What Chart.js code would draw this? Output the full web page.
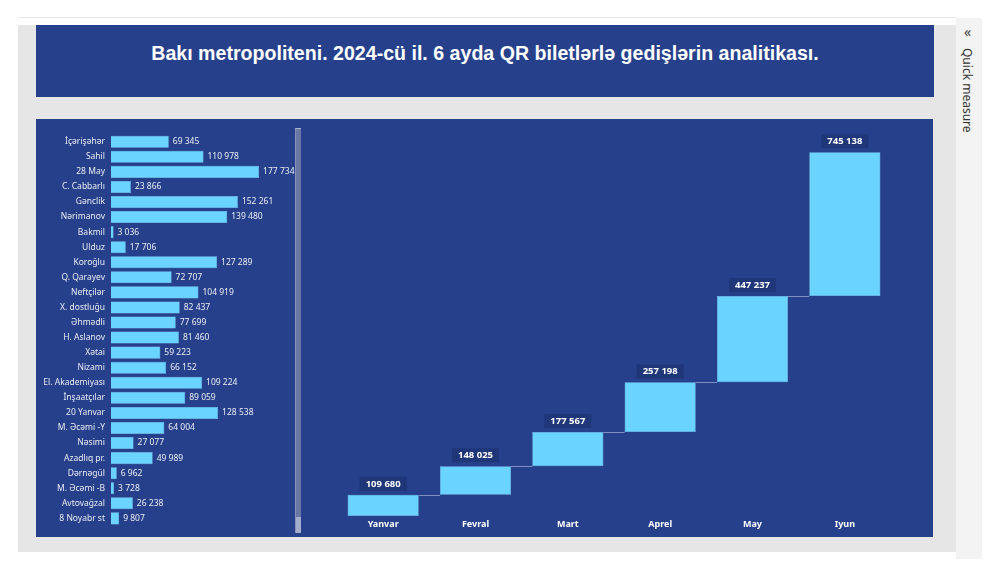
<!DOCTYPE html>
<html>
<head>
<meta charset="utf-8">
<script src="https://cdn.jsdelivr.net/npm/chart.js@4.4.1/dist/chart.umd.min.js"></script>
<style>
  body { margin: 0; background: #ffffff; width: 1000px; height: 578px; position: relative; overflow: hidden; font-family: "Noto Sans", sans-serif; }
  #canvasBg { position: absolute; left: 18px; top: 25px; width: 938px; height: 527px; background: #e6e6e6; }
  #topStrip { position: absolute; left: 18px; top: 17px; width: 938px; height: 1px; background: #e8e8e8; }
  #title { position: absolute; left: 36px; top: 25px; width: 898px; height: 72px; background: #26408b; color: #fff;
           font: bold 19.6px "Liberation Sans", Arial, sans-serif; text-align: center; line-height: 56px; }
  #leftPanel { position: absolute; left: 36px; top: 119px; width: 266px; height: 418px; background: #26408b; }
  #rightPanel { position: absolute; left: 302px; top: 119px; width: 631px; height: 418px; background: #26408b; }
  #scroll { position: absolute; left: 295px; top: 128px; width: 5px; height: 404px; background: #6b77a3;
            border-top: 1px solid #aab3cf; border-left: 1px solid #8892b6; z-index: 2; }
  #thumb { position: absolute; left: 0; bottom: 0; width: 5px; height: 16px; background: #a3aecb; }
  #qm { position: absolute; left: 956px; top: 18px; width: 26px; height: 541px; background: #f3f3f3; }
  #qmArrow { position: absolute; left: 964px; top: 22px; font: 14px "Noto Sans", sans-serif; color: #444; }
  #qmText { position: absolute; left: 976px; top: 48px; transform-origin: 0 0; transform: rotate(90deg);
            font: 12px "Noto Sans", sans-serif; color: #333; white-space: nowrap; }
  canvas { position: absolute; }
</style>
</head>
<body>
<div id="topStrip"></div>
<div id="canvasBg"></div>
<div id="title">Bakı metropoliteni. 2024-cü il. 6 ayda QR biletlərlə gedişlərin analitikası.</div>
<div id="leftPanel"></div>
<div id="rightPanel"></div>
<div id="qm"></div>
<div id="qmArrow">«</div>
<div id="qmText">Quick measure</div>
<canvas id="chart1" width="266" height="418" style="left:36px;top:119px;width:266px;height:418px"></canvas>
<canvas id="chart2" width="631" height="418" style="left:302px;top:119px;width:631px;height:418px"></canvas>
<div id="scroll"><div id="thumb"></div></div>
<script>
// stations and QR rides per station (Jan-Jun 2024)
const stations = ['İçərişəhər', 'Sahil', '28 May', 'C. Cabbarlı', 'Gənclik', 'Nərimanov', 'Bakmil', 'Ulduz',
    'Koroğlu', 'Q. Qarayev', 'Neftçilər', 'X. dostluğu', 'Əhmədli', 'H. Aslanov', 'Xətai', 'Nizami',
    'El. Akademiyası', 'İnşaatçılar', '20 Yanvar', 'M. Əcəmi -Y', 'Nəsimi', 'Azadlıq pr.', 'Dərnəgül',
    'M. Əcəmi -B', 'Avtovağzal', '8 Noyabr st'];
const stationRides = [69345, 110978, 177734, 23866, 152261, 139480, 3036, 17706, 127289, 72707, 104919,
    82437, 77699, 81460, 59223, 66152, 109224, 89059, 128538, 64004, 27077, 49989, 6962, 3728, 26238, 9807];

// months and rides per month (waterfall)
const months = ['Yanvar', 'Fevral', 'Mart', 'Aprel', 'May', 'Iyun'];
const monthRides = [109680, 148025, 177567, 257198, 447237, 745138];

const barColor = '#6bd3ff';
const textColor = '#e9ecf4';
const labelFont = '"Noto Sans", sans-serif';

function fmt(v) {
    return String(v).replace(/\B(?=(\d{3})+(?!\d))/g, ' ');
}

// value labels at the end of horizontal bars
const barValues = {
    id: 'barValues',
    afterDatasetsDraw(chart) {
        const ctx = chart.ctx;
        const meta = chart.getDatasetMeta(0);
        ctx.save();
        ctx.font = '8.5px ' + labelFont;
        ctx.fillStyle = textColor;
        ctx.textAlign = 'left';
        ctx.textBaseline = 'middle';
        meta.data.forEach((bar, i) => {
            ctx.fillText(fmt(stationRides[i]), bar.x + 4, bar.y);
        });
        ctx.restore();
    }
};

new Chart(document.getElementById('chart1'), {
    type: 'bar',
    data: {
        labels: stations,
        datasets: [{
            data: stationRides,
            backgroundColor: barColor,
            borderColor: '#8fdfff',
            borderWidth: 0.5,
            barPercentage: 0.8,
            categoryPercentage: 1
        }]
    },
    options: {
        indexAxis: 'y',
        responsive: false,
        animation: false,
        devicePixelRatio: 1,
        layout: { padding: { top: 15.2, bottom: 7.6, left: 0, right: 6 } },
        plugins: { legend: { display: false }, tooltip: { enabled: false } },
        scales: {
            x: { display: false, min: 0, max: 222000 },
            y: {
                grid: { display: false, drawTicks: false },
                border: { display: false },
                ticks: { color: textColor, font: { size: 8.5, family: labelFont }, padding: 6, autoSkip: false },
                afterFit(scale) { scale.width = 75; }
            }
        }
    },
    plugins: [barValues]
});

// cumulative waterfall segments
const steps = [];
let running = 0;
monthRides.forEach(v => {
    steps.push([running, running + v]);
    running += v;
});

// connectors and boxed labels for the waterfall
const waterfallExtras = {
    id: 'waterfallExtras',
    afterDatasetsDraw(chart) {
        const ctx = chart.ctx;
        const meta = chart.getDatasetMeta(0);
        const yScale = chart.scales.y;
        ctx.save();
        ctx.strokeStyle = '#8090c4';
        ctx.lineWidth = 1;
        for (let i = 0; i < meta.data.length - 1; i++) {
            const a = meta.data[i], b = meta.data[i + 1];
            const y = Math.round(yScale.getPixelForValue(steps[i][1])) + 0.5;
            ctx.beginPath();
            ctx.moveTo(a.x + a.width / 2, y);
            ctx.lineTo(b.x - b.width / 2, y);
            ctx.stroke();
        }
        ctx.font = 'bold 9.5px ' + labelFont;
        ctx.textAlign = 'center';
        ctx.textBaseline = 'middle';
        meta.data.forEach((bar, i) => {
            const txt = fmt(monthRides[i]);
            const w = ctx.measureText(txt).width + 12;
            const top = yScale.getPixelForValue(steps[i][1]);
            const cy = top - 11;
            ctx.fillStyle = '#1f3779';
            ctx.fillRect(bar.x - w / 2, cy - 7, w, 14);
            ctx.fillStyle = '#ffffff';
            ctx.fillText(txt, bar.x, cy);
        });
        ctx.restore();
    }
};

new Chart(document.getElementById('chart2'), {
    type: 'bar',
    data: {
        labels: months,
        datasets: [{
            data: steps,
            backgroundColor: barColor,
            borderColor: '#8fdfff',
            borderWidth: 0.5,
            borderSkipped: false,
            barPercentage: 0.77,
            categoryPercentage: 1
        }]
    },
    options: {
        responsive: false,
        animation: false,
        devicePixelRatio: 1,
        layout: { padding: { top: 11, bottom: 0, left: 35, right: 42 } },
        plugins: { legend: { display: false }, tooltip: { enabled: false } },
        scales: {
            x: {
                grid: { display: false, drawTicks: false },
                border: { display: false },
                ticks: { color: '#ffffff', font: { size: 9, weight: 'bold', family: labelFont }, padding: 3 },
                afterFit(scale) { scale.height = 21; }
            },
            y: { display: false, min: 0, max: 2000000 }
        }
    },
    plugins: [waterfallExtras]
});
</script>
</body>
</html>
